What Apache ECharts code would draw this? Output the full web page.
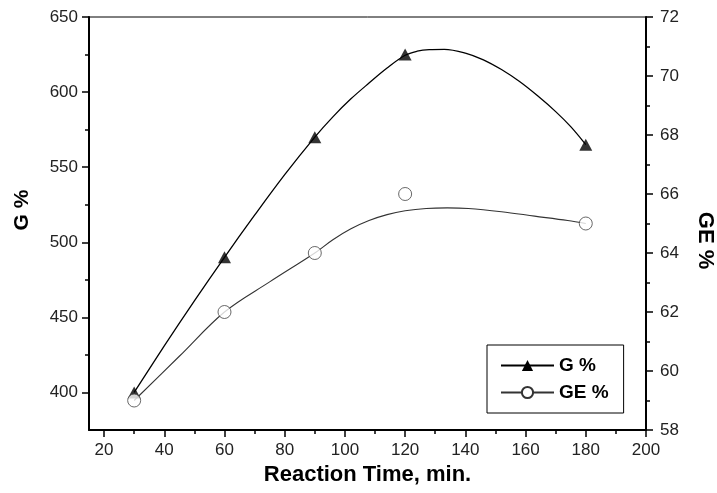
<!DOCTYPE html>
<html><head><meta charset="utf-8">
<script src="https://cdn.jsdelivr.net/npm/echarts@6/dist/echarts.min.js"></script>
<style>html,body{margin:0;padding:0;background:#fff}#c{width:717px;height:493px}</style>
</head><body><div id="c"></div>
<script>
// measured points
const reactionTime = [30, 60, 90, 120, 180];
const gPercent = [400, 490, 570, 625, 565];
const gePercent = [59, 62, 64, 66, 65];
// smoothed curves
const gCurveX = [30, 40, 50, 60, 70, 80, 90, 96, 102, 108, 114, 120, 124, 128, 133, 140, 146, 152, 158, 164, 170, 175, 180];
const gCurveY = [400, 431, 461, 490, 518, 545, 570, 583.5, 595.5, 606, 616, 624.5, 627.2, 628.3, 628.5, 626, 621.5, 615, 607, 597.5, 587, 577, 565];
const geCurveX = [30, 45, 60, 75, 90, 96, 102, 108, 114, 120, 127, 134, 141, 152, 163, 174, 180];
const geCurveY = [59, 60.5, 62, 63.02, 64, 64.45, 64.82, 65.1, 65.3, 65.43, 65.51, 65.53, 65.51, 65.4, 65.25, 65.1, 65.0];
// ticks
const xTickLabels = [20, 40, 60, 80, 100, 120, 140, 160, 180, 200];
const xMinorTicks = [30, 50, 70, 90, 110, 130, 150, 170, 190];
const gTickLabels = [400, 450, 500, 550, 600, 650];
const gMinorTicks = [425, 475, 525, 575, 625];

const FONT = 'Liberation Sans, Arial, Helvetica, sans-serif';
const zip = (a, b) => a.map((v, i) => [v, b[i]]);

const chart = echarts.init(document.getElementById('c'), null, {renderer: 'canvas'});
const labelStyle = {fontSize: 17, color: '#222', fontFamily: FONT};
const nameStyle = {fontSize: 21, fontWeight: 'bold', color: '#000', fontFamily: FONT};
const lineAx = {show: true, lineStyle: {color: '#000', width: 2}};

chart.setOption({
  animation: false,
  backgroundColor: '#fff',
  grid: {left: 89, right: 71, top: 17, bottom: 63, show: true, borderColor: '#000', borderWidth: 1,
         backgroundColor: 'transparent', containLabel: false, outerBoundsMode: 'none'},
  legend: {
    data: [{name: 'G %'}, {name: 'GE %'}],
    orient: 'vertical', left: 487, top: 345,
    padding: [11, 15, 11, 13], itemGap: 8,
    itemWidth: 53, itemHeight: 14,
    borderColor: '#000', borderWidth: 1, backgroundColor: '#fff',
    selectedMode: false,
    textStyle: {fontSize: 19, fontWeight: 'bold', color: '#000', fontFamily: FONT}
  },
  xAxis: [
    {type: 'value', min: 15, max: 200, position: 'bottom',
     name: 'Reaction Time, min.', nameLocation: 'middle', nameGap: 28,
     nameTextStyle: Object.assign({}, nameStyle, {fontSize: 22}),
     axisLine: lineAx,
     axisTick: {show: true, customValues: xTickLabels, length: 7, lineStyle: {width: 1.5, color: '#000'}},
     axisLabel: Object.assign({customValues: xTickLabels, margin: 12}, labelStyle),
     splitLine: {show: false}},
    {type: 'value', min: 15, max: 200, position: 'bottom',
     axisLine: {show: false},
     axisTick: {show: true, customValues: xMinorTicks, length: 4, lineStyle: {width: 1.5, color: '#000'}},
     axisLabel: {show: false}, splitLine: {show: false}}
  ],
  yAxis: [
    {type: 'value', min: 375, max: 650, position: 'left',
     name: 'G %', nameLocation: 'middle', nameGap: 56,
     nameTextStyle: Object.assign({}, nameStyle, {padding: [0, 0, 0, 27]}),
     axisLine: lineAx,
     axisTick: {show: true, customValues: gTickLabels, length: 7, lineStyle: {width: 1.5, color: '#000'}},
     axisLabel: Object.assign({customValues: gTickLabels, margin: 11}, labelStyle),
     splitLine: {show: false}},
    {type: 'value', min: 58, max: 72, interval: 2, position: 'right',
     name: 'GE %', nameLocation: 'middle', nameGap: 48, nameRotate: -90,
     nameTextStyle: Object.assign({}, nameStyle, {fontSize: 22, padding: [0, 0, 0, 34]}),
     axisLine: lineAx,
     axisTick: {show: true, length: 7, lineStyle: {width: 1.5, color: '#000'}},
     minorTick: {show: true, splitNumber: 2, length: 4, lineStyle: {width: 1.5, color: '#000'}},
     axisLabel: Object.assign({margin: 14}, labelStyle),
     splitLine: {show: false}, minorSplitLine: {show: false}},
    {type: 'value', min: 375, max: 650, position: 'left',
     axisLine: {show: false},
     axisTick: {show: true, customValues: gMinorTicks, length: 4, lineStyle: {width: 1.5, color: '#000'}},
     axisLabel: {show: false}, splitLine: {show: false}}
  ],
  series: [
    {name: 'G %', type: 'line', xAxisIndex: 0, yAxisIndex: 0, data: zip(gCurveX, gCurveY),
     smooth: 0.35, showSymbol: false, symbol: 'triangle',
     lineStyle: {color: '#000', width: 1.3}, itemStyle: {color: '#000'}, z: 2},
    {name: 'GE %', type: 'line', xAxisIndex: 0, yAxisIndex: 1, data: zip(geCurveX, geCurveY),
     smooth: 0.35, showSymbol: false, symbol: 'circle',
     lineStyle: {color: '#333', width: 1.1}, itemStyle: {color: '#fff', borderColor: '#333', borderWidth: 1}, z: 2},
    {name: 'G %', type: 'scatter', xAxisIndex: 0, yAxisIndex: 0, data: zip(reactionTime, gPercent),
     symbol: 'triangle', symbolSize: [13, 12], itemStyle: {color: '#000'}, z: 3},
    {name: 'GE %', type: 'scatter', xAxisIndex: 0, yAxisIndex: 1, data: zip(reactionTime, gePercent),
     symbol: 'circle', symbolSize: 13, itemStyle: {color: '#fff', borderColor: '#444', borderWidth: 1}, z: 4}
  ]
});
</script></body></html>
